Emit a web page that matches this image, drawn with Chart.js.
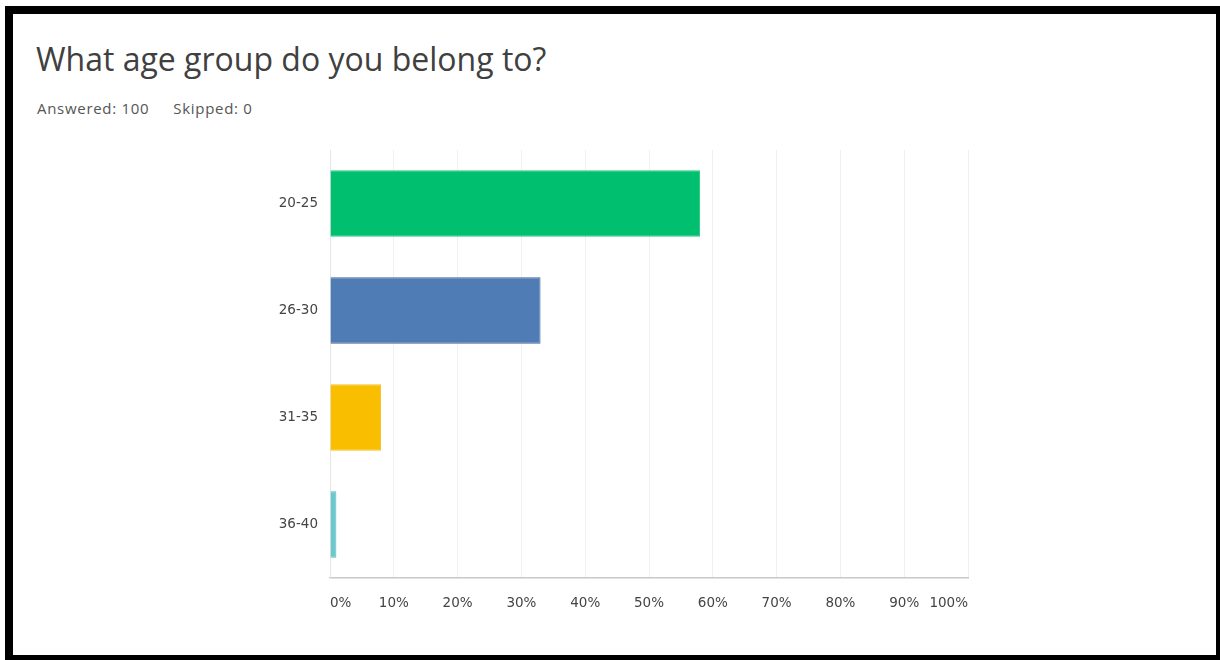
<!DOCTYPE html>
<html>
<head>
<meta charset="utf-8">
<script src="https://cdn.jsdelivr.net/npm/chart.js@4/dist/chart.umd.min.js"></script>
<style>
  html, body { margin: 0; padding: 0; width: 1220px; height: 660px; overflow: hidden; background: #fff; }
  .frame {
    position: absolute; left: 5px; top: 6px; width: 1219px; height: 657px;
    box-sizing: border-box; border: 8px solid #000; background: #fff;
  }
  .title {
    position: absolute; left: 36px; top: 37px; margin: 0; line-height: 44px;
    font-family: 'Open Sans', sans-serif; font-weight: 400; font-size: 32px; color: #404040;
  }
  .meta {
    position: absolute; left: 37px; top: 98px; line-height: 20px;
    font-family: 'Open Sans', sans-serif; font-size: 15px; letter-spacing: 0.7px; color: #555;
  }
  .meta span + span { margin-left: 24px; }
  #chart { position: absolute; left: 0; top: 0; }
</style>
</head>
<body>
<div class="frame"></div>
<h1 class="title">What age group do you belong to?</h1>
<div class="meta"><span>Answered: 100</span><span>Skipped: 0</span></div>
<canvas id="chart" width="1220" height="660"></canvas>
<script>
/* Survey answer chart */
const ageGroups = ['20-25', '26-30', '31-35', '36-40'];
const answerShare = [58, 33, 8, 1];
const barColors = ['#00bf6f', '#507cb6', '#f9be00', '#6bc8cd'];
const barEdges = ['#2bc97f', '#3f6496', '#f5c32a', '#5fb8bd'];

const tickFont = { family: "'DejaVu Sans', sans-serif", size: 13.5 };

const ctx = document.getElementById('chart').getContext('2d');
new Chart(ctx, {
    type: 'bar',
    data: {
        labels: ageGroups,
        datasets: [{
            data: answerShare,
            backgroundColor: barColors,
            borderColor: barEdges,
            borderWidth: 1,
            borderSkipped: 'start',
            categoryPercentage: 1,
            barPercentage: 0.62
        }]
    },
    options: {
        indexAxis: 'y',
        responsive: false,
        animation: false,
        layout: { padding: { left: 250, right: 252, top: 150, bottom: 42 } },
        plugins: { legend: { display: false }, tooltip: { enabled: false } },
        scales: {
            x: {
                min: 0, max: 100,
                ticks: {
                    stepSize: 10, align: 'inner', padding: 17, maxRotation: 0,
                    color: '#444', font: tickFont,
                    callback: v => v + '%'
                },
                grid: { color: '#f0f0f0', drawTicks: false },
                border: { color: '#c8c8c8', width: 1.5 },
                afterFit: s => { s.height = 40; }
            },
            y: {
                ticks: { padding: 12, color: '#444', font: tickFont },
                grid: { display: false, drawTicks: false },
                border: { color: '#e6e6e6' },
                afterFit: s => { s.width = 80; }
            }
        }
    }
});
</script>
</body>
</html>
